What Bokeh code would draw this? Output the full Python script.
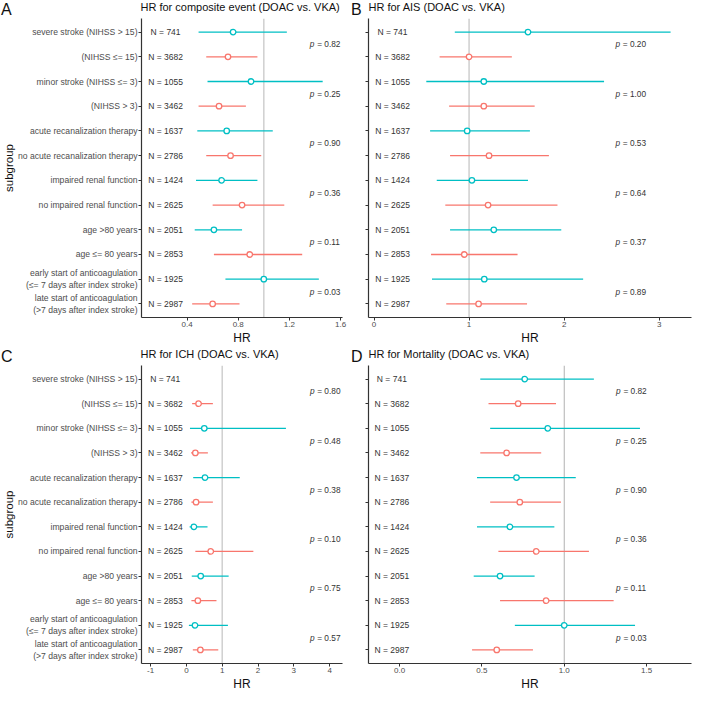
import math
from bokeh.plotting import figure
from bokeh.models import Range1d, FixedTicker, Span
from bokeh.layouts import column, row
from bokeh.embed import file_html
from bokeh.resources import INLINE
from bokeh.core.properties import value

nan = float("nan")

# ---------------- data ----------------
subgroups = [
    "severe stroke (NIHSS > 15)",
    "(NIHSS ≤= 15)",
    "minor stroke (NIHSS ≤= 3)",
    "(NIHSS > 3)",
    "acute recanalization therapy",
    "no acute recanalization therapy",
    "impaired renal function",
    "no impaired renal function",
    "age >80 years",
    "age ≤= 80 years",
    "early start of anticoagulation\n(≤= 7 days after index stroke)",
    "late start of anticoagulation\n(>7 days after index stroke)",
]
n_patients = [741, 3682, 1055, 3462, 1637, 2786, 1424, 2625, 2051, 2853, 1925, 2987]
arm = ["first", "second"] * 6

composite_hr = [0.76, 0.72, 0.90, 0.65, 0.71, 0.74, 0.67, 0.83, 0.61, 0.89, 1.00, 0.60]
composite_lo = [0.49, 0.55, 0.56, 0.49, 0.48, 0.55, 0.47, 0.60, 0.46, 0.61, 0.70, 0.44]
composite_hi = [1.18, 0.95, 1.46, 0.86, 1.07, 0.98, 0.95, 1.16, 0.83, 1.30, 1.43, 0.81]
composite_p = ["0.82", "0.25", "0.90", "0.36", "0.11", "0.03"]

ais_hr = [1.62, 1.00, 1.155, 1.155, 0.98, 1.21, 1.03, 1.20, 1.26, 0.95, 1.16, 1.10]
ais_lo = [0.85, 0.69, 0.55, 0.79, 0.59, 0.80, 0.66, 0.75, 0.80, 0.60, 0.61, 0.76]
ais_hi = [3.12, 1.45, 2.42, 1.69, 1.64, 1.84, 1.62, 1.93, 1.97, 1.51, 2.20, 1.61]
ais_p = ["0.20", "1.00", "0.53", "0.64", "0.37", "0.89"]

ich_hr = [nan, 0.34, 0.50, 0.25, 0.52, 0.27, 0.21, 0.68, 0.40, 0.32, 0.24, 0.39]
ich_lo = [nan, 0.16, 0.10, 0.13, 0.19, 0.14, 0.09, 0.25, 0.15, 0.14, 0.07, 0.18]
ich_hi = [nan, 0.74, 2.78, 0.60, 1.49, 0.74, 0.59, 1.87, 1.18, 0.84, 1.16, 0.89]
ich_p = ["0.80", "0.48", "0.38", "0.10", "0.75", "0.57"]

mort_hr = [0.76, 0.72, 0.90, 0.65, 0.71, 0.73, 0.67, 0.83, 0.61, 0.89, 1.00, 0.59]
mort_lo = [0.49, 0.54, 0.55, 0.49, 0.47, 0.55, 0.47, 0.60, 0.45, 0.61, 0.70, 0.44]
mort_hi = [1.18, 0.95, 1.46, 0.86, 1.07, 0.98, 0.94, 1.15, 0.82, 1.30, 1.43, 0.81]
mort_p = ["0.82", "0.25", "0.90", "0.36", "0.11", "0.03"]

ticks_a = [0.4, 0.8, 1.2, 1.6]
tick_labels_a = ["0.4", "0.8", "1.2", "1.6"]
ticks_b = [0, 1, 2, 3]
tick_labels_b = ["0", "1", "2", "3"]
ticks_c = [-1, 0, 1, 2, 3, 4]
tick_labels_c = ["-1", "0", "1", "2", "3", "4"]
ticks_d = [0.0, 0.5, 1.0, 1.5]
tick_labels_d = ["0.0", "0.5", "1.0", "1.5"]
ref_hr = 1.0

titles_top = ["HR for composite event (DOAC vs. VKA)", "HR for AIS (DOAC vs. VKA)"]
titles_bottom = ["HR for ICH (DOAC vs. VKA)", "HR for Mortality (DOAC vs. VKA)"]
letters_top = ["A", "B"]
letters_bottom = ["C", "D"]

# ---------------- style / layout ----------------
FONT = "Liberation Sans"
CYAN = "#00BFC4"
SALMON = "#F8766D"
AX = "#333333"
TXT = "#4D4D4D"
W_LEFT, W_RIGHT = 350, 343
FRAME_L_LEFT, FRAME_L_RIGHT = 140, W_LEFT + 18
STRIP_H = 18
rows = list(range(1, len(subgroups) + 1))
colors = [CYAN if a == "first" else SALMON for a in arm]
p_rows = [2 * i + 1.5 for i in range(6)]
Y_BOT, Y_TOP = 12.55, 0.45


def panel(hr, lo, hi, pv, xr, ticks, tick_labels, n_x, p_x,
          width, height, bl, bb, br, left_labels, ref_color, ref_width):
    p = figure(width=width, height=height, output_backend="svg",
               toolbar_location=None,
               x_range=Range1d(*xr), y_range=Range1d(Y_BOT, Y_TOP),
               min_border_left=bl, min_border_right=br,
               min_border_top=0, min_border_bottom=bb)
    p.outline_line_color = None
    p.grid.visible = False
    p.background_fill_color = "white"
    p.border_fill_color = "white"

    p.add_layout(Span(location=ref_hr, dimension="height", line_color=ref_color,
                      line_width=ref_width, level="underlay"))

    p.segment(x0=lo, y0=rows, x1=hi, y1=rows, line_color=colors, line_width=1.3)
    p.scatter(x=hr, y=rows, marker="circle", size=5.5, fill_color="white",
              line_color=colors, line_width=1.3)

    p.text(x=[n_x] * len(rows), y=rows, text=[f"N = {n}" for n in n_patients],
           text_align="center", text_baseline="middle",
           text_font=value(FONT), text_font_size="8.5px", text_color="#333333")
    p.text(x=[p_x] * len(pv), y=p_rows, text=["p"] * len(pv),
           text_align="left", text_baseline="middle", text_font_style="italic",
           text_font=value(FONT), text_font_size="8.3px", text_color="#333333")
    p.text(x=[p_x] * len(pv), y=p_rows, text=[f"= {v}" for v in pv],
           x_offset=7.3, text_align="left", text_baseline="middle",
           text_font=value(FONT), text_font_size="8.3px", text_color="#333333")

    xa = p.xaxis[0]
    xa.ticker = FixedTicker(ticks=ticks)
    xa.major_label_overrides = {float(t): l for t, l in zip(ticks, tick_labels)}
    xa.axis_label = "HR"
    xa.axis_label_text_font = FONT
    xa.axis_label_text_font_size = "12px"
    xa.axis_label_text_font_style = "normal"
    xa.axis_label_text_color = "#111111"
    xa.axis_label_standoff = 1
    xa.major_label_standoff = 1
    xa.major_label_text_font = FONT
    xa.major_label_text_font_size = "8px"
    xa.major_label_text_color = TXT

    ya = p.yaxis[0]
    ya.ticker = FixedTicker(ticks=rows)
    if left_labels:
        ya.major_label_overrides = {float(r): s for r, s in zip(rows, subgroups)}
        ya.axis_label = "subgroup"
        ya.axis_label_text_font = FONT
        ya.axis_label_text_font_size = "11.5px"
        ya.axis_label_text_font_style = "normal"
        ya.axis_label_text_color = "#111111"
        ya.axis_label_standoff = 0
    else:
        ya.major_label_overrides = {float(r): "" for r in rows}
    ya.major_label_standoff = 1
    ya.major_label_text_font = FONT
    ya.major_label_text_font_size = "8.6px"
    ya.major_label_text_color = TXT
    for ax in (xa, ya):
        ax.axis_line_color = AX
        ax.axis_line_width = 1.2
        ax.major_tick_line_color = AX
        ax.major_tick_in = 0
        ax.major_tick_out = 3
        ax.minor_tick_line_color = None
    return p


def strip(letters, titles):
    s = figure(width=W_LEFT + W_RIGHT, height=STRIP_H, output_backend="svg",
               toolbar_location=None, x_axis_type=None, y_axis_type=None,
               x_range=Range1d(0, W_LEFT + W_RIGHT), y_range=Range1d(STRIP_H, 0),
               min_border=0)
    s.outline_line_color = None
    s.background_fill_color = "white"
    s.border_fill_color = "white"
    s.text(x=[0.5, W_LEFT + 0.5], y=[9, 9], text=letters,
           text_align="left", text_baseline="middle",
           text_font=value(FONT), text_font_size="16px", text_color="#111111")
    s.text(x=[FRAME_L_LEFT, FRAME_L_RIGHT], y=[6.6, 6.6], text=titles,
           text_align="left", text_baseline="middle",
           text_font=value(FONT), text_font_size="11px", text_color="#111111")
    return s


pa = panel(composite_hr, composite_lo, composite_hi, composite_p, (0.044, 1.615),
           ticks_a, tick_labels_a, 0.232, 1.36,
           W_LEFT, 329, FRAME_L_LEFT, 26, 8, True, "#cfcfcf", 1.5)
pb = panel(ais_hr, ais_lo, ais_hi, ais_p, (-0.058, 3.34),
           ticks_b, tick_labels_b, 0.195, 2.54,
           W_RIGHT, 329, 18, 26, 2, False, "#cfcfcf", 1.5)
pc = panel(ich_hr, ich_lo, ich_hi, ich_p, (-1.254, 4.36),
           ticks_c, tick_labels_c, -0.59, 3.45,
           W_LEFT, 328, FRAME_L_LEFT, 26, 8, True, "#cfcfcf", 1.5)
pd_ = panel(mort_hr, mort_lo, mort_hi, mort_p, (-0.189, 1.773),
            ticks_d, tick_labels_d, -0.047, 1.315,
            W_RIGHT, 328, 18, 26, 2, False, "#a8a8a8", 0.9)

s1 = strip(letters_top, titles_top)
s2 = strip(letters_bottom, titles_bottom)

layout = column(s1, row(pa, pb), s2, row(pc, pd_))

open("out.html", "w").write(file_html(layout, INLINE))
